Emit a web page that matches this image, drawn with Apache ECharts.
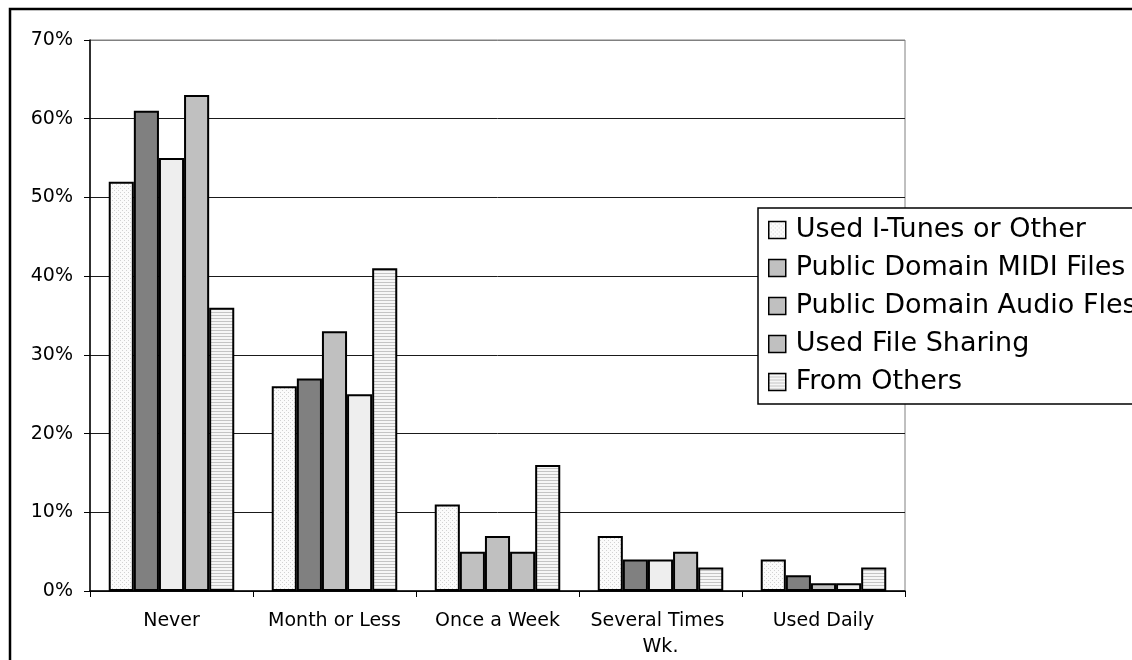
<!DOCTYPE html>
<html>
<head>
<meta charset="utf-8">
<style>
  html, body { margin: 0; padding: 0; background: #fff; }
  #chart { width: 1132px; height: 660px; }
</style>
<script src="https://cdn.jsdelivr.net/npm/echarts@6/dist/echarts.min.js"></script>
</head>
<body>
<div id="chart"></div>
<script>
// How often each download source is used
const categories = ['Never', 'Month or Less', 'Once a Week', 'Several Times Wk.', 'Used Daily'];
const seriesNames = [
  'Used I-Tunes or Other',
  'Public Domain MIDI Files',
  'Public Domain Audio Fles',
  'Used File Sharing',
  'From Others'
];
const iTunes      = [52, 26, 11, 7, 4];
const midiFiles   = [61, 27, 5, 4, 2];
const audioFiles  = [55, 33, 7, 4, 1];
const fileSharing = [63, 25, 5, 5, 1];
const fromOthers  = [36, 41, 16, 3, 3];
const yTicks = { min: 0, max: 70, step: 10 };

// Fill of each bar, by category (the workbook's fills are not consistent per series)
const iTunesFills      = ['dots', 'dots', 'dots', 'dots', 'dots'];
const midiFills        = ['dark', 'dark', 'mid', 'dark', 'dark'];
const audioFills       = ['light', 'mid', 'mid', 'light', 'mid'];
const sharingFills     = ['mid', 'light', 'mid', 'mid', 'light'];
const othersFills      = ['stripes', 'stripes', 'stripes', 'stripes', 'stripes'];
const legendFills      = ['dots', 'mid', 'mid', 'mid', 'stripes'];

function makePattern(w, h, draw) {
  const c = document.createElement('canvas');
  c.width = w; c.height = h;
  const ctx = c.getContext('2d');
  draw(ctx);
  return { image: c, repeat: 'repeat' };
}
const dotPattern = makePattern(4, 4, ctx => {
  ctx.fillStyle = '#fbfbfb'; ctx.fillRect(0, 0, 4, 4);
  ctx.fillStyle = '#d2d2d2';
  ctx.fillRect(0, 0, 1, 1); ctx.fillRect(2, 2, 1, 1);
});
const stripePattern = makePattern(4, 3, ctx => {
  ctx.fillStyle = '#f6f6f6'; ctx.fillRect(0, 0, 4, 3);
  ctx.fillStyle = '#c4c4c4'; ctx.fillRect(0, 0, 4, 1);
});
const fills = {
  dots: dotPattern,
  stripes: stripePattern,
  dark: '#808080',
  mid: '#c0c0c0',
  light: '#eeeeee'
};

const values = [iTunes, midiFiles, audioFiles, fileSharing, fromOthers];
const fillSets = [iTunesFills, midiFills, audioFills, sharingFills, othersFills];

const FONT = 'DejaVu Sans';

const series = seriesNames.map((name, i) => ({
  name,
  type: 'bar',
  barGap: '0%',
  barCategoryGap: '23%',
  itemStyle: { color: fills[legendFills[i]], borderColor: '#000', borderWidth: 2 },
  emphasis: { disabled: true },
  data: values[i].map((v, j) => ({
    value: v,
    itemStyle: { color: fills[fillSets[i][j]] }
  }))
}));

const splitColors = [];
for (let v = yTicks.min; v <= yTicks.max; v += yTicks.step) {
  splitColors.push(v === yTicks.max ? '#808080' : '#1a1a1a');
}

const chart = echarts.init(document.getElementById('chart'), null, { renderer: 'canvas' });
chart.setOption({
  animation: false,
  backgroundColor: '#fff',
  textStyle: { fontFamily: FONT },
  grid: {
    left: 90, right: 227, top: 40, bottom: 69,
    show: true, borderColor: '#808080', borderWidth: 1, backgroundColor: 'transparent'
  },
  xAxis: {
    type: 'category',
    data: categories,
    axisLine: { lineStyle: { color: '#000', width: 1.5 } },
    axisTick: { show: true, length: 6, lineStyle: { color: '#000', width: 1 } },
    axisLabel: {
      color: '#000', fontSize: 19, fontFamily: FONT, margin: 17,
      interval: 0, width: 160, overflow: 'break', lineHeight: 26
    }
  },
  yAxis: {
    type: 'value',
    min: yTicks.min, max: yTicks.max, interval: yTicks.step,
    axisLine: { show: true, lineStyle: { color: '#000', width: 1.5 } },
    axisTick: { show: true, length: 6, lineStyle: { color: '#000', width: 1 } },
    axisLabel: { color: '#000', fontSize: 19, fontFamily: FONT, margin: 17, formatter: '{value}%' },
    splitLine: { show: true, lineStyle: { color: splitColors, width: 1 } }
  },
  legend: {
    orient: 'vertical',
    left: 768, top: 216,
    padding: 0,
    itemWidth: 17, itemHeight: 17,
    itemGap: 10,
    icon: 'rect',
    z: 10,
    selectedMode: false,
    textStyle: { color: '#000', fontSize: 27, fontFamily: FONT, lineHeight: 28, padding: [0, 0, 0, 5] },
    itemStyle: { borderColor: '#000', borderWidth: 1.5 },
    data: seriesNames
  },
  graphic: [
    {
      type: 'rect', z: 8,
      shape: { x: 758, y: 208, width: 420, height: 196 },
      style: { fill: '#fff', stroke: '#000', lineWidth: 1.5 }
    },
    {
      type: 'rect', z: 8,
      shape: { x: 10, y: 9, width: 1200, height: 700 },
      style: { fill: 'none', stroke: '#000', lineWidth: 2.5 }
    }
  ],
  series
});
</script>
</body>
</html>
